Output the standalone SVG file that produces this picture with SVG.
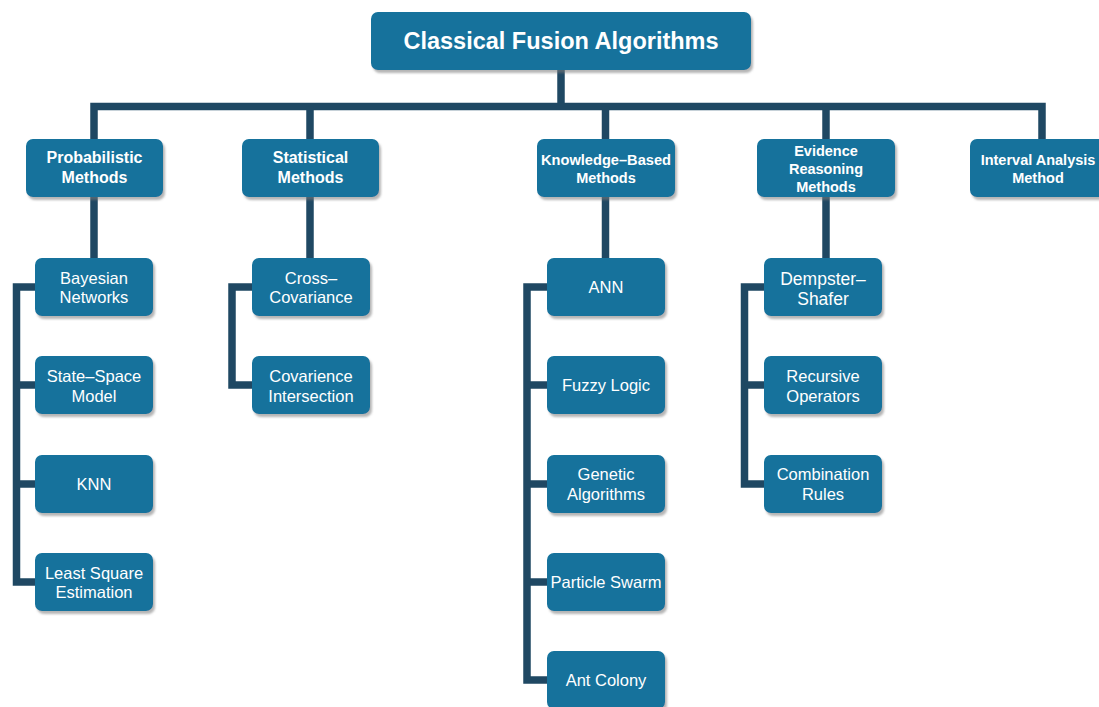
<svg xmlns="http://www.w3.org/2000/svg" width="1099" height="707" viewBox="0 0 1099 707">
<defs>
<filter id="sh" x="-10%" y="-10%" width="125%" height="135%">
<feDropShadow dx="2" dy="3" stdDeviation="1.2" flood-color="#7a7a7a" flood-opacity="0.55"/>
</filter>
<style>
.box{fill:#12729c;filter:url(#sh)}
.ln{fill:none;stroke:#1f4863;stroke-width:7.5;stroke-linejoin:miter;stroke-linecap:butt}
text{font-family:"Liberation Sans",Arial,sans-serif;fill:#ffffff;text-anchor:middle}
.t0{font-size:23.5px;font-weight:bold}
.t1{font-size:16px;font-weight:bold}
.t1s{font-size:14.5px;font-weight:bold}
.t2{font-size:16.5px}
.t2l{font-size:17.5px}
</style>
</defs>
<rect width="1099" height="707" fill="#ffffff"/>
<g id="connectors">
<path class="ln" d="M561 70 V106.5"/>
<path class="ln" d="M94 139 V106.5 H1042 V139"/>
<path class="ln" d="M310 106.5 V139"/>
<path class="ln" d="M605.5 106.5 V139"/>
<path class="ln" d="M826 106.5 V139"/>
<path class="ln" d="M94 197 V258"/>
<path class="ln" d="M310 197 V258"/>
<path class="ln" d="M605.5 197 V258"/>
<path class="ln" d="M826 197 V258"/>
<path class="ln" d="M36 287 H16.5 V582 H36"/>
<path class="ln" d="M16.5 385 H36 M16.5 484 H36"/>
<path class="ln" d="M253 287 H232 V385 H253"/>
<path class="ln" d="M548 287 H527 V680 H548"/>
<path class="ln" d="M527 385 H548 M527 484 H548 M527 582 H548"/>
<path class="ln" d="M765 287 H744.5 V484 H765"/>
<path class="ln" d="M744.5 385 H765"/>
</g>
<g id="root">
<rect class="box" x="371" y="12" width="380" height="58" rx="7"/>
<text class="t0" x="561" y="48.5">Classical Fusion Algorithms</text>
</g>
<g id="probabilistic">
<rect class="box" x="26" y="139" width="137" height="58" rx="7"/>
<text class="t1" x="94.5" y="163">Probabilistic</text>
<text class="t1" x="94.5" y="183">Methods</text>
</g>
<g id="statistical">
<rect class="box" x="242" y="139" width="137" height="58" rx="7"/>
<text class="t1" x="310.5" y="163">Statistical</text>
<text class="t1" x="310.5" y="183">Methods</text>
</g>
<g id="knowledge">
<rect class="box" x="537" y="139" width="138" height="58" rx="7"/>
<text class="t1s" x="606" y="165" textLength="130" lengthAdjust="spacingAndGlyphs">Knowledge–Based</text>
<text class="t1s" x="606" y="183">Methods</text>
</g>
<g id="evidence">
<rect class="box" x="757" y="139" width="138" height="58" rx="7"/>
<text class="t1s" x="826" y="156">Evidence</text>
<text class="t1s" x="826" y="174">Reasoning</text>
<text class="t1s" x="826" y="192">Methods</text>
</g>
<g id="interval">
<rect class="box" x="970" y="139" width="140" height="58" rx="7"/>
<text class="t1s" x="1038" y="165">Interval Analysis</text>
<text class="t1s" x="1038" y="183">Method</text>
</g>
<g id="bayesian">
<rect class="box" x="35" y="258" width="118" height="58" rx="7"/>
<text class="t2" x="94" y="283.5">Bayesian</text>
<text class="t2" x="94" y="303">Networks</text>
</g>
<g id="statespace">
<rect class="box" x="35" y="356" width="118" height="58" rx="7"/>
<text class="t2" x="94" y="381.5">State–Space</text>
<text class="t2" x="94" y="401.5">Model</text>
</g>
<g id="knn">
<rect class="box" x="35" y="455" width="118" height="58" rx="7"/>
<text class="t2" x="94" y="490">KNN</text>
</g>
<g id="leastsquare">
<rect class="box" x="35" y="553" width="118" height="58" rx="7"/>
<text class="t2" x="94" y="578.5">Least Square</text>
<text class="t2" x="94" y="598">Estimation</text>
</g>
<g id="crosscov">
<rect class="box" x="252" y="258" width="118" height="58" rx="7"/>
<text class="t2" x="311" y="283.5">Cross–</text>
<text class="t2" x="311" y="303">Covariance</text>
</g>
<g id="covint">
<rect class="box" x="252" y="356" width="118" height="58" rx="7"/>
<text class="t2" x="311" y="381.5">Covarience</text>
<text class="t2" x="311" y="401.5">Intersection</text>
</g>
<g id="ann">
<rect class="box" x="547" y="258" width="118" height="58" rx="7"/>
<text class="t2" x="606" y="293">ANN</text>
</g>
<g id="fuzzy">
<rect class="box" x="547" y="356" width="118" height="58" rx="7"/>
<text class="t2" x="606" y="391">Fuzzy Logic</text>
</g>
<g id="genetic">
<rect class="box" x="547" y="455" width="118" height="58" rx="7"/>
<text class="t2" x="606" y="480">Genetic</text>
<text class="t2" x="606" y="500">Algorithms</text>
</g>
<g id="particle">
<rect class="box" x="547" y="553" width="118" height="58" rx="7"/>
<text class="t2" x="606" y="588">Particle Swarm</text>
</g>
<g id="antcolony">
<rect class="box" x="547" y="651" width="118" height="58" rx="7"/>
<text class="t2" x="606" y="686">Ant Colony</text>
</g>
<g id="dempster">
<rect class="box" x="764" y="258" width="118" height="58" rx="7"/>
<text class="t2l" x="823" y="284.5">Dempster–</text>
<text class="t2l" x="823" y="304.5">Shafer</text>
</g>
<g id="recursive">
<rect class="box" x="764" y="356" width="118" height="58" rx="7"/>
<text class="t2" x="823" y="381.5">Recursive</text>
<text class="t2" x="823" y="401.5">Operators</text>
</g>
<g id="combination">
<rect class="box" x="764" y="455" width="118" height="58" rx="7"/>
<text class="t2" x="823" y="480">Combination</text>
<text class="t2" x="823" y="500">Rules</text>
</g>
</svg>
